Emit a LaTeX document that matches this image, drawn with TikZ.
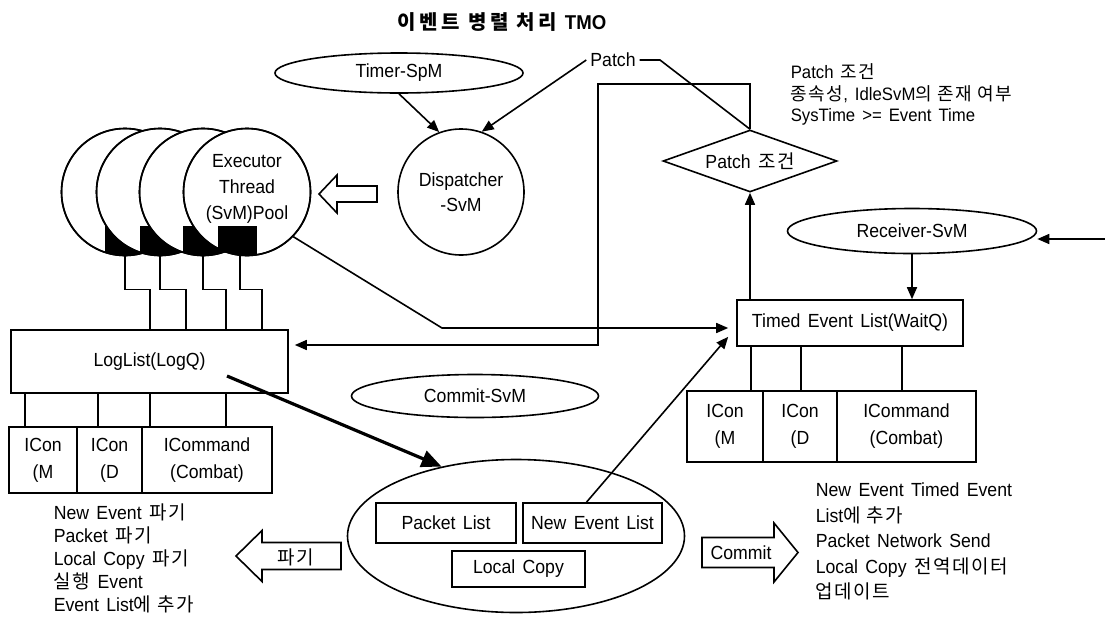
\documentclass[tikz,border=0pt]{standalone}
\usepackage{fontspec}
\setmainfont{Liberation Sans}[FakeStretch=0.93,WordSpace=1.5]
\newfontfamily\krfont{Noto Sans CJK KR}[LetterSpace=8]
\newcommand\ko[1]{{\krfont #1}}
\usetikzlibrary{arrows.meta,shapes.geometric}
\tikzset{
  base/.style={font=\fontsize{19}{23}\selectfont},
  box/.style={draw, rectangle, inner sep=0pt, align=center},
  ell/.style={draw, ellipse, inner sep=0pt},
  arr/.style={-{Triangle[length=12pt,width=10pt]}},
  thickarr/.style={line width=3.2pt,-{Triangle[length=20pt,width=17pt]}},
  hollow/.style={draw, fill=white, line join=miter},
  txt/.style={inner sep=0pt, align=left},
  exc/.style={circle, draw, fill=white, minimum size=127pt, inner sep=0pt},
  cell/.style={box, font=\fontsize{19}{27}\selectfont},
}
\begin{document}
\begin{tikzpicture}[x=1pt,y=-1pt,line width=1.6pt,base]
\useasboundingbox (0,0) rectangle (1105,619);

% title
\node[font=\fontsize{20}{22}\selectfont\bfseries] (title) at (502,22) {{\krfont\addfontfeature{LetterSpace=18}이벤트 병렬 처리} TMO};

% executor thread pool circles
\node[exc] (ex1) at (125,192) {};
\begin{scope}\clip (125,192) circle[radius=63.5pt]; \fill (105,226) rectangle (145,262);\end{scope}
\draw (ex1.center) circle[radius=63.5pt];
\node[exc] (ex2) at (160,192) {};
\begin{scope}\clip (160,192) circle[radius=63.5pt]; \fill (140,226) rectangle (180,262);\end{scope}
\draw (ex2.center) circle[radius=63.5pt];
\node[exc] (ex3) at (203,192) {};
\begin{scope}\clip (203,192) circle[radius=63.5pt]; \fill (183,226) rectangle (223,262);\end{scope}
\draw (ex3.center) circle[radius=63.5pt];
\node[exc] (ex4) at (247,192) {};
\begin{scope}\clip (247,192) circle[radius=63.5pt]; \fill (218,226) rectangle (257,262);\end{scope}
\draw (ex4.center) circle[radius=63.5pt];
\node[align=center, font=\fontsize{19}{26}\selectfont] (exlbl) at (247,189) {Executor\\Thread\\(SvM)Pool};

% dispatcher and timer
\node[ell, minimum width=248pt, minimum height=40pt] (timer) at (399,73) {Timer-SpM};
\node[circle, draw, minimum size=126pt, inner sep=0pt, align=center, font=\fontsize{19}{25}\selectfont] (disp) at (461,192) {Dispatcher\\-SvM};
\node (patch) at (613,60) {Patch};
\draw[arr] (timer.south) -- (disp.110);
\draw[arr] (patch.west) -- (disp.71);

% hollow arrow dispatcher -> executor
\draw[hollow] (377,186) -- (337,186) -- (337,175) -- (319,194) -- (337,213) -- (337,202) -- (377,202) -- cycle;

% patch condition
\node[diamond, draw, minimum width=174pt, minimum height=62pt, inner sep=0pt, aspect=2.8] (diam) at (750,161) {Patch \ko{조건}};
\coordinate (c3) at (660,60);
\draw (patch.east) -- (c3) -- (diam.north);
\node[txt, anchor=north west, font=\fontsize{18}{21.5}\selectfont] (note) at (790,63)
  {Patch \ko{조건}\\\ko{종속성}, IdleSvM\ko{의 존재 여부}\\SysTime >= Event Time};

% receiver
\node[ell, minimum width=249pt, minimum height=45pt] (recv) at (912,231) {Receiver-SvM};
\coordinate (rin) at (1105,239);
\draw[arr] (rin) -- (rin -| recv.east);

% timed event list
\node[box, minimum width=226pt, minimum height=46pt] (timed) at (850,323) {Timed Event List(WaitQ)};
\draw[arr] (recv.south) -- (recv.south |- timed.north);
\draw[arr] (timed.north -| diam.south) -- (diam.south);
\node[cell, minimum width=76pt, minimum height=71pt] (tc1) at (725,426.5) {ICon\\(M};
\node[cell, minimum width=74pt, minimum height=71pt] (tc2) at (800,426.5) {ICon\\(D};
\node[cell, minimum width=139pt, minimum height=71pt] (tc3) at (906.5,426.5) {ICommand\\(Combat)};
\coordinate (tx1) at (751,346);
\coordinate (tx2) at (801,346);
\coordinate (tx3) at (902,346);
\draw (tx1) -- (tx1 |- tc1.north);
\draw (tx2) -- (tx2 |- tc2.north);
\draw (tx3) -- (tx3 |- tc3.north);

% loglist
\node[box, minimum width=277pt, minimum height=63pt] (loglist) at (149.5,361.5) {LogList(LogQ)};
\node[cell, minimum width=68pt, minimum height=66pt] (lc1) at (43,460) {ICon\\(M};
\node[cell, minimum width=65pt, minimum height=66pt] (lc2) at (109.5,460) {ICon\\(D};
\node[cell, minimum width=130pt, minimum height=66pt] (lc3) at (207,460) {ICommand\\(Combat)};
\coordinate (lx1) at (25,393);
\coordinate (lx2) at (98,393);
\coordinate (lx3) at (150,393);
\coordinate (lx4) at (226,393);
\draw (lx1) -- (lx1 |- lc1.north);
\draw (lx2) -- (lx2 |- lc2.north);
\draw (lx3) -- (lx3 |- lc3.north);
\draw (lx4) -- (lx4 |- lc3.north);

% executor -> loglist zigzags
\coordinate (l1) at (150,330);
\coordinate (l2) at (186,330);
\coordinate (l3) at (226,330);
\coordinate (l4) at (262,330);
\draw (ex1.south) -- ++(0,33) -| (l1);
\draw (ex2.south) -- ++(0,33) -| (l2);
\draw (ex3.south) -- ++(0,33) -| (l3);
\draw ([xshift=-7pt]ex4.south) -- ++(0,33) -| (l4);

% patch loop back to loglist
\coordinate (c1) at (598,345);
\draw[arr, shorten >=6pt] (diam.north) -- ++(0,-45) -| (c1) -- (c1 -| loglist.east);

% executor -> timed event list
\coordinate (c2) at (442,328);
\draw[arr, shorten >=8pt] (ex4.-44) -- (c2) -- (c2 -| timed.west);

% commit
\node[ell, minimum width=247pt, minimum height=43pt] (commitsvm) at (475,396) {Commit-SvM};
\node[ell, minimum width=337pt, minimum height=153pt] (bigell) at (516,536) {};
\node[box, minimum width=140pt, minimum height=40pt] (packet) at (446,523) {Packet List};
\node[box, minimum width=139pt, minimum height=40pt] (newev) at (592.5,523) {New Event List};
\node[box, minimum width=133pt, minimum height=36pt] (local) at (518.5,569) {Local Copy};
\draw[arr] ([xshift=-6pt]newev.north) -- ([xshift=-8pt,yshift=10pt]timed.south west);
\coordinate (c4) at (227,376);
\draw[thickarr] (c4) -- (bigell.137);

% discard arrow
\draw[hollow] (341,542.5) -- (262,542.5) -- (262,530.5) -- (236,556) -- (262,581.5) -- (262,569.5) -- (341,569.5) -- cycle;
\node (pagi) at (296,557) {\ko{파기}};
\node[txt, anchor=north west, font=\fontsize{19}{23}\selectfont] (ltext) at (53,503)
  {New Event \ko{파기}\\Packet \ko{파기}\\Local Copy \ko{파기}\\\ko{실행} Event\\Event List\ko{에 추가}};

% commit arrow
\draw[hollow] (702,537.5) -- (774,537.5) -- (774,523) -- (798,552.5) -- (774,582) -- (774,567.5) -- (702,567.5) -- cycle;
\node (commit) at (741,553) {Commit};
\node[txt, anchor=north west, font=\fontsize{19}{25.5}\selectfont] (rtext) at (815,482)
  {New Event Timed Event\\List\ko{에 추가}\\Packet Network Send\\Local Copy \ko{전역데이터}\\\ko{업데이트}};
\end{tikzpicture}
\end{document}
